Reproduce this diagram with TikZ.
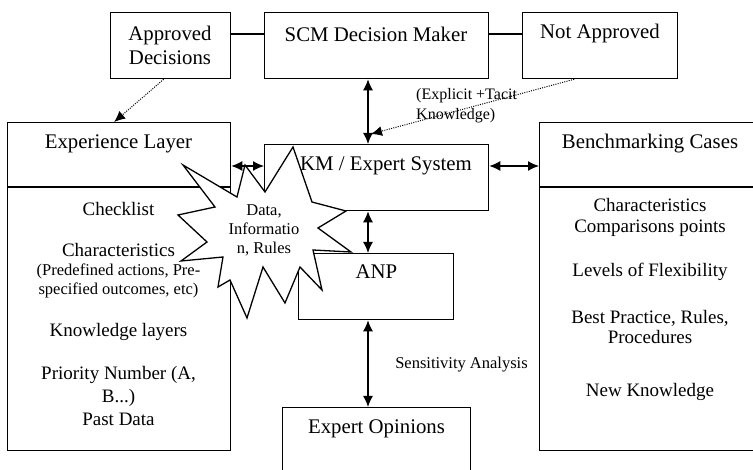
\documentclass[tikz,border=0pt]{standalone}
\usepackage{fontspec}
\setmainfont{Liberation Serif}
\usetikzlibrary{arrows.meta}

\begin{document}
\begin{tikzpicture}[x=1pt,y=-1pt,
  box/.style={draw, line width=1.3pt, rectangle, anchor=north west, inner sep=0pt},
  title/.style={font=\fontsize{20.8}{24}\selectfont, align=center, inner sep=0pt},
  big/.style={font=\fontsize{19}{23}\selectfont, align=center, inner sep=0pt},
  small/.style={font=\fontsize{16.5}{19.5}\selectfont, align=center, inner sep=0pt},
  link/.style={line width=1.3pt},
  tip/.tip={Latex[length=11pt,width=10pt]},
  dbl/.style={line width=1.3pt, tip-tip},
  dots/.style={line width=1pt, dash pattern=on 1pt off 1.3pt, -tip},
]
\useasboundingbox (0,0) rectangle (753,470);
\clip (0,0) rectangle (753,470);

% reference lines for the connectors
\coordinate (toprow) at (0,34);
\coordinate (axis) at (368,0);
\coordinate (kmtip) at (371,134);

% boxes
\node[box, minimum width=120pt, minimum height=66pt] (appr) at (110,12) {};
\node[box, minimum width=224pt, minimum height=66pt] (scm) at (264,12) {};
\node[box, minimum width=155pt, minimum height=66pt] (notap) at (522,12) {};
\node[box, minimum width=223pt, minimum height=328pt] (exp) at (7,122) {};
\node[box, minimum width=224pt, minimum height=66pt] (km) at (264,144) {};
\node[box, minimum width=232pt, minimum height=328pt] (bench) at (539,122) {};
\node[box, minimum width=155pt, minimum height=66pt] (anp) at (298,253) {};
\node[box, minimum width=188pt, minimum height=80pt] (expop) at (282,407) {};

% header dividers
\draw[link] (exp.west |- 0,187) -- (exp.east |- 0,187);
\draw[link] (bench.west |- 0,187) -- (bench.east |- 0,187);

% box titles
\node[title] (apprtxt) at (170,45) {Approved\\Decisions};
\node[title] (scmtxt) at (376,34) {SCM Decision Maker};
\node[title] (natxt) at (600,34) {Not Approved};
\node[title] (exptxt) at (118.5,144) {Experience Layer};
\node[title] (kmtxt) at (386,166) {KM / Expert System};
\node[title] (benchtxt) at (650,144) {Benchmarking Cases};
\node[title] (anptxt) at (376.5,272) {ANP};
\node[title] (expoptxt) at (376.5,429) {Expert Opinions};

% experience layer contents
\node[big] (chk) at (118.5,209) {Checklist};
\node[big] (chr) at (118.5,250) {Characteristics};
\node[small] (pre) at (118.5,281) {(Predefined actions, Pre-\\specified outcomes, etc)};
\node[big] (kl) at (118.5,332) {Knowledge layers};
\node[big] (prio) at (118.5,386.5) {Priority Number (A,\\B...)};
\node[big] (past) at (118.5,419) {Past Data};

% benchmarking contents
\node[big, font=\fontsize{19}{21}\selectfont] (bchr) at (650,217.5) {Characteristics\\Comparisons points};
\node[big] (lvl) at (650,272) {Levels of Flexibility};
\node[big, font=\fontsize{19}{20.5}\selectfont] (best) at (650,327) {Best Practice, Rules,\\Procedures};
\node[big] (newk) at (650,392) {New Knowledge};

% connectors
\draw[link] (appr.east |- toprow) -- (scm.west |- toprow);
\draw[link] (scm.east |- toprow) -- (notap.west |- toprow);
\draw[dbl] (scm.south -| axis) -- (km.north -| axis);
\draw[dbl] (km.south -| axis) -- (anp.north -| axis);
\draw[dbl] (anp.south -| axis) -- (expop.north -| axis);
\draw[dbl] (km.east |- kmtxt) -- (bench.west |- kmtxt);
\draw[dots] ([xshift=-7pt]appr.south) -- ([xshift=-5pt]exp.north);
\draw[dots] ([xshift=-26pt]notap.south) -- (kmtip);

% starburst
\draw[line width=1.3pt, fill=white, line join=miter]
  (183,165) -- (237,197) -- (245,165) -- (265,192) -- (293,147) -- (312,202)
  -- (346,211) -- (318,228) -- (351,252) -- (313,250) -- (322,290) -- (300,267)
  -- (285,303) -- (263,267) -- (247,318) -- (230,280) -- (218,287) -- (223,257)
  -- (181,261) -- (207,242) -- (178,215) -- (215,207) -- cycle;
\node[small, font=\fontsize{16.5}{19}\selectfont] (data) at (264,230) {Data,\\Informatio\\n, Rules};

\draw[dbl] (exp.east |- kmtxt) -- (km.west |- kmtxt);

% labels
\node[small, align=left, anchor=west, font=\fontsize{16}{20}\selectfont] (expl) at (416,106) {(Explicit +Tacit\\Knowledge)};
\node[small] (sens) at (461.5,365) {Sensitivity Analysis};
\end{tikzpicture}
\end{document}
